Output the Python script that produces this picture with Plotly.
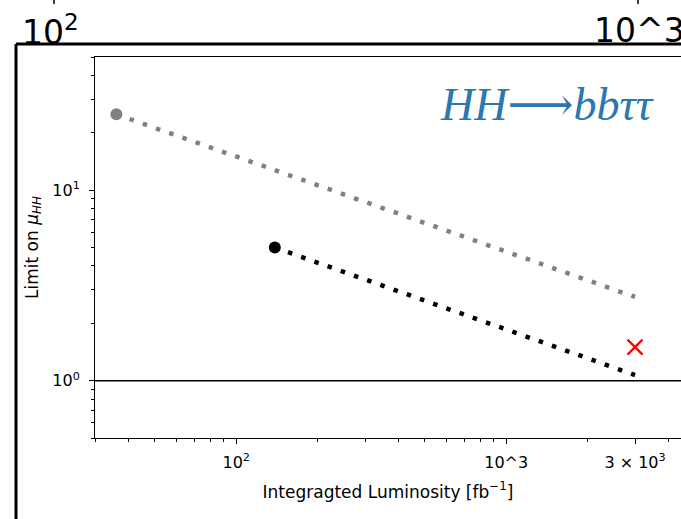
import plotly.graph_objects as go

# ---- data ----
gray_lumi = [36, 3000]
gray_limit = [25, 2.75]
black_lumi = [139, 3000]
black_limit = [5.0, 1.07]
hl_lumi = [3000]
hl_limit = [1.5]
x_tickvals = [100, 1000, 3000]
x_ticktext = ["10<sup>2</sup>", "10^3", "3 × 10<sup>3</sup>"]
y_tickvals = [1, 10]
y_ticktext = ["10<sup>0</sup>", "10<sup>1</sup>"]

W, H = 681, 519
L, R, T, B = 95, 681, 57, 438

def px(x):
    return (x - L) / (R - L)

def py(y):
    return (B - y) / (B - T)

fig = go.Figure()
fig.add_trace(go.Scatter(x=gray_lumi, y=gray_limit, mode="lines",
                         line=dict(color="#808080", width=4.5, dash="4.5px,9.5px"),
                         showlegend=False))
fig.add_trace(go.Scatter(x=black_lumi, y=black_limit, mode="lines",
                         line=dict(color="black", width=4.5, dash="4.5px,9.5px"),
                         showlegend=False))
fig.add_trace(go.Scatter(x=gray_lumi[:1], y=gray_limit[:1], mode="markers",
                         marker=dict(color="#808080", size=12), showlegend=False))
fig.add_trace(go.Scatter(x=black_lumi[:1], y=black_limit[:1], mode="markers",
                         marker=dict(color="black", size=12), showlegend=False))
fig.add_trace(go.Scatter(x=hl_lumi, y=hl_limit, mode="markers",
                         marker=dict(symbol="x-thin", size=15, color="red",
                                     line=dict(color="red", width=2.2)),
                         showlegend=False))

font = "DejaVu Sans"
minor_x = [30, 40, 50, 60, 70, 80, 90, 200, 300, 400, 500, 600, 700, 800, 900, 2000, 4000]
minor_y = [0.5, 0.6, 0.7, 0.8, 0.9, 2, 3, 4, 5, 6, 7, 8, 9, 20, 30, 40, 50]

fig.update_xaxes(type="log", range=[1.4771, 1.4771 + (R - L) / 270.0],
                 tickmode="array", tickvals=x_tickvals, ticktext=x_ticktext,
                 ticks="outside", ticklen=5, tickwidth=1, tickcolor="black",
                 ticklabelstandoff=5,
                 minor=dict(tickmode="array", tickvals=minor_x, ticks="outside",
                            ticklen=3, tickwidth=1, tickcolor="black", showgrid=False),
                 showline=True, linecolor="black", linewidth=1, mirror=True,
                 showgrid=False, zeroline=False,
                 tickfont=dict(family=font, size=16, color="black"),
                 title=dict(text="Integragted Luminosity [fb<sup>−1</sup>]",
                            font=dict(family=font, size=17, color="black"), standoff=14))
fig.update_yaxes(type="log", range=[-0.30103, 1.69897],
                 tickmode="array", tickvals=y_tickvals, ticktext=y_ticktext,
                 ticks="outside", ticklen=5, tickwidth=1, tickcolor="black",
                 ticklabelstandoff=6,
                 minor=dict(tickmode="array", tickvals=minor_y, ticks="outside",
                            ticklen=3, tickwidth=1, tickcolor="black", showgrid=False),
                 showline=True, linecolor="black", linewidth=1, mirror=False,
                 showgrid=False, zeroline=False,
                 tickfont=dict(family=font, size=16, color="black"),
                 title=dict(text="Limit on <i>μ<sub>HH</sub></i>",
                            font=dict(family=font, size=17, color="black"), standoff=9))

shapes = [
    dict(type="line", xref="paper", yref="y", x0=0, x1=1, y0=1, y1=1,
         line=dict(color="black", width=1.5)),
    dict(type="line", xref="paper", yref="paper", x0=px(16), x1=px(16), y0=py(44), y1=py(530),
         line=dict(color="black", width=3)),
    dict(type="line", xref="paper", yref="paper", x0=px(16), x1=px(690), y0=py(44), y1=py(44),
         line=dict(color="black", width=3)),
    dict(type="line", xref="paper", yref="paper", x0=px(54), x1=px(54), y0=py(-2), y1=py(4),
         line=dict(color="black", width=1.5)),
    dict(type="line", xref="paper", yref="paper", x0=px(638), x1=px(638), y0=py(-2), y1=py(4),
         line=dict(color="black", width=1.5)),
]

annotations = [
    dict(xref="paper", yref="paper", x=px(547), y=py(104), xanchor="center", yanchor="middle",
         text="<i>HH⟶bbττ</i>", showarrow=False,
         font=dict(family="Liberation Serif, DejaVu Serif", size=46, color="#2a77b2")),
    dict(xref="paper", yref="paper", x=px(20), y=py(31), xanchor="left", yanchor="middle",
         text="10<sup>2</sup>", showarrow=False,
         font=dict(family=font, size=33, color="black")),
    dict(xref="paper", yref="paper", x=px(592), y=py(31), xanchor="left", yanchor="middle",
         text="10^3", showarrow=False,
         font=dict(family=font, size=33, color="black")),
]

fig.update_layout(width=W, height=H, margin=dict(l=L, r=W - R, t=T, b=H - B, pad=0),
                  paper_bgcolor="white", plot_bgcolor="white",
                  shapes=shapes, annotations=annotations, showlegend=False)

fig.write_html("out.html", config={"displayModeBar": False},
               post_script="document.body.style.margin='0';document.body.style.overflow='hidden';")
